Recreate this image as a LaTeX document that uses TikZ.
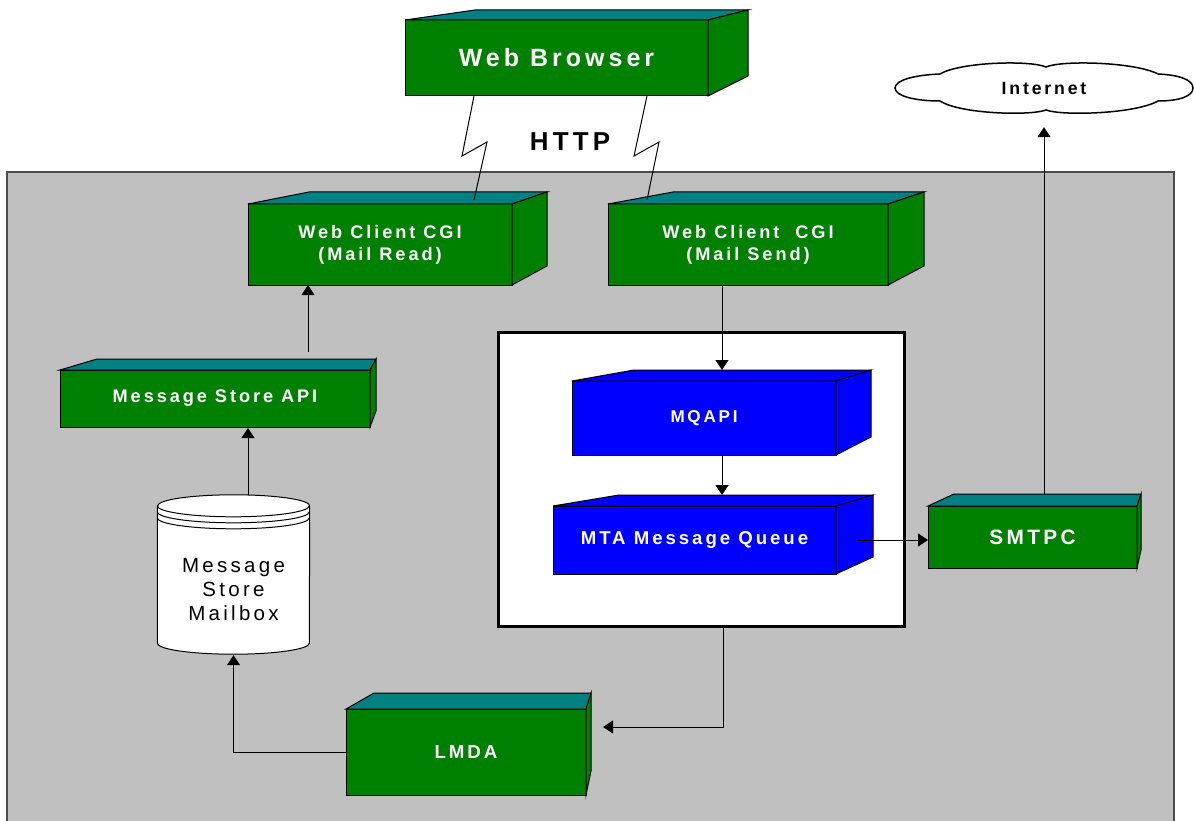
\documentclass[tikz,border=0pt]{standalone}
\usepackage{fontspec}
\setmainfont{Liberation Sans}[LetterSpace=16]
\usetikzlibrary{calc,arrows.meta}
\definecolor{panelgrey}{HTML}{C0C0C0}
\definecolor{boxgreen}{HTML}{008000}
\definecolor{boxteal}{HTML}{008080}
\definecolor{boxblue}{HTML}{0000FF}
\begin{document}
\begin{tikzpicture}[x=1pt,y=-1pt,
    gbox/.style={draw,line width=1pt,fill=boxgreen,text=white,anchor=north west,inner sep=0pt,outer sep=0pt,align=center},
    bbox/.style={gbox,fill=boxblue},
    gtop/.style={draw,line width=1pt,fill=boxteal},
    gside/.style={draw,line width=1pt,fill=boxgreen},
    bface/.style={draw,line width=1pt,fill=boxblue},
    arr/.style={-{Triangle[length=10pt,width=13pt]},line width=1pt}]
    \useasboundingbox (0,0) rectangle (1194,821);
    \draw[fill=panelgrey,draw=black!70,line width=1.5pt] (7,172) rectangle (1174,830);
    \node[draw,fill=white,line width=2.5pt,anchor=north west,inner sep=0pt,minimum width=406pt,minimum height=294pt] (mq) at (497,331) {};

    \node[gbox,minimum width=303pt,minimum height=76pt,font=\bfseries\fontsize{25}{30}\selectfont] (wb) at (405,20) {Web Browser};
    \draw[gtop] (wb.north west) -- ++(70,-10) -- ($(wb.north east)+(40,-10)$) -- (wb.north east) -- cycle;
    \draw[gside] (wb.north east) -- ++(40,-10) -- ($(wb.south east)+(40,-20)$) -- (wb.south east) -- cycle;

    \node[gbox,minimum width=264pt,minimum height=81pt,font=\bfseries\fontsize{18.2}{22}\selectfont] (wcr) at (248,204) {Web Client CGI\\(Mail Read)};
    \draw[gtop] (wcr.north west) -- ++(61,-12) -- ($(wcr.north east)+(35,-12)$) -- (wcr.north east) -- cycle;
    \draw[gside] (wcr.north east) -- ++(35,-12) -- ($(wcr.south east)+(35,-19)$) -- (wcr.south east) -- cycle;

    \node[gbox,minimum width=280pt,minimum height=81pt,font=\bfseries\fontsize{18.2}{22}\selectfont] (wcs) at (608,204) {Web Client\ \ CGI\\(Mail Send)};
    \draw[gtop] (wcs.north west) -- ++(65,-12) -- ($(wcs.north east)+(36,-12)$) -- (wcs.north east) -- cycle;
    \draw[gside] (wcs.north east) -- ++(36,-12) -- ($(wcs.south east)+(36,-19)$) -- (wcs.south east) -- cycle;

    \node[gbox,minimum width=310pt,minimum height=57pt,font=\bfseries\fontsize{18.2}{22}\selectfont] (msapi) at (60,370) {Message Store API};
    \draw[gtop] (msapi.north west) -- ++(37,-11) -- ($(msapi.north east)+(6,-11)$) -- (msapi.north east) -- cycle;
    \draw[gside] (msapi.north east) -- ++(6,-11) -- ($(msapi.south east)+(6,-16)$) -- (msapi.south east) -- cycle;

    \node[bbox,minimum width=264pt,minimum height=74pt,font=\bfseries\fontsize{17.1}{21}\selectfont] (mqapi) at (572,381) {MQAPI};
    \draw[bface] (mqapi.north west) -- ++(62,-11) -- ($(mqapi.north east)+(35,-11)$) -- (mqapi.north east) -- cycle;
    \draw[bface] (mqapi.north east) -- ++(35,-11) -- ($(mqapi.south east)+(35,-18)$) -- (mqapi.south east) -- cycle;

    \node[bbox,minimum width=283pt,minimum height=68pt,font=\bfseries\fontsize{18.6}{22}\selectfont] (mtaq) at (553,506) {MTA Message Queue};
    \draw[bface] (mtaq.north west) -- ++(66,-11) -- ($(mtaq.north east)+(37,-11)$) -- (mtaq.north east) -- cycle;
    \draw[bface] (mtaq.north east) -- ++(37,-11) -- ($(mtaq.south east)+(37,-17)$) -- (mtaq.south east) -- cycle;

    \node[gbox,minimum width=209pt,minimum height=62pt,font=\bfseries\fontsize{20.8}{25}\selectfont] (smtpc) at (928,506) {SMTPC};
    \draw[gtop] (smtpc.north west) -- ++(26,-12) -- ($(smtpc.north east)+(4,-12)$) -- (smtpc.north east) -- cycle;
    \draw[gside] (smtpc.north east) -- ++(4,-12) -- ($(smtpc.south east)+(4,-18)$) -- (smtpc.south east) -- cycle;

    \node[gbox,minimum width=240pt,minimum height=86pt,font=\bfseries\fontsize{18.7}{22}\selectfont] (lmda) at (346,709) {LMDA};
    \draw[gtop] (lmda.north west) -- ++(28,-16) -- ($(lmda.north east)+(5,-16)$) -- (lmda.north east) -- cycle;
    \draw[gside] (lmda.north east) -- ++(5,-16) -- ($(lmda.south east)+(5,-24)$) -- (lmda.south east) -- cycle;

    \node[inner sep=0pt,minimum width=152pt,minimum height=160pt] (mbox) at (233.5,575) {};
    \draw[fill=white,line width=1pt] ($(mbox.north west)+(0,11)$) -- ($(mbox.south west)+(0,-12)$) arc[start angle=180,end angle=0,x radius=76,y radius=11] -- ($(mbox.north east)+(0,11)$) arc[start angle=360,end angle=180,x radius=76,y radius=11] -- cycle;
    \draw[line width=1pt] ($(mbox.north west)+(0,11)$) arc[start angle=180,end angle=0,x radius=76,y radius=11];
    \draw[line width=1pt] ($(mbox.north west)+(0,17)$) arc[start angle=180,end angle=0,x radius=76,y radius=11];
    \draw[line width=1pt] ($(mbox.north west)+(0,23)$) arc[start angle=180,end angle=0,x radius=76,y radius=11];
    \node[align=center,font=\fontsize{20.5}{24}\selectfont] (mlabel) at (233.5,590) {Message\\Store\\Mailbox};

    \draw[fill=white,line width=1.5pt] (895,88) .. controls (895,80) and (915,75) .. (940,74)
        .. controls (960,62) and (1030,60) .. (1046,67)
        .. controls (1062,60) and (1135,62) .. (1158,74)
        .. controls (1180,75) and (1193,80) .. (1193,88)
        .. controls (1193,96) and (1180,101) .. (1158,101)
        .. controls (1135,114) and (1062,116) .. (1046,110)
        .. controls (1030,116) and (960,114) .. (940,101)
        .. controls (915,101) and (895,96) .. cycle;
    \node[inner sep=0pt,minimum height=44pt,font=\bfseries\fontsize{17.7}{21}\selectfont] (inet) at (1044,88) {Internet};

    \node[font=\bfseries\fontsize{25.9}{30}\selectfont] (http) at (570,142) {HTTP};
    \draw[line width=1pt] ($(wb.south west)+(69,0)$) -- (462,156) -- (487,142) -- ($(wcr.north west)+(226,-4)$);
    \draw[line width=1pt] ($(wb.south west)+(242,0)$) -- (634,156) -- (659,142) -- ($(wcs.north west)+(39,-4)$);

    \draw[arr] ($(msapi.north)+(93,-18)$) -- ($(wcr.south)+(-72,0)$);
    \draw[arr] ($(mbox.north)+(14.5,0)$) -- ($(msapi.south)+(33,1)$);
    \draw[arr] ($(wcs.south)+(-26,0)$) -- ($(mqapi.north)+(18,-11)$);
    \draw[arr] ($(mqapi.south)+(18,0)$) -- ($(mtaq.north)+(27.5,-11)$);
    \draw[arr] ($(mtaq.east)+(22,0)$) -- (smtpc.west |- mtaq.east);
    \draw[arr] ($(smtpc.north)+(11.5,-12)$) -- ($(inet.south)+(0,17)$);
    \draw[arr] ($(mq.south)+(22,0)$) |- ($(lmda.east)+(17,-25)$);
    \draw[arr] (lmda.west) -| (mbox.south);
\end{tikzpicture}
\end{document}
